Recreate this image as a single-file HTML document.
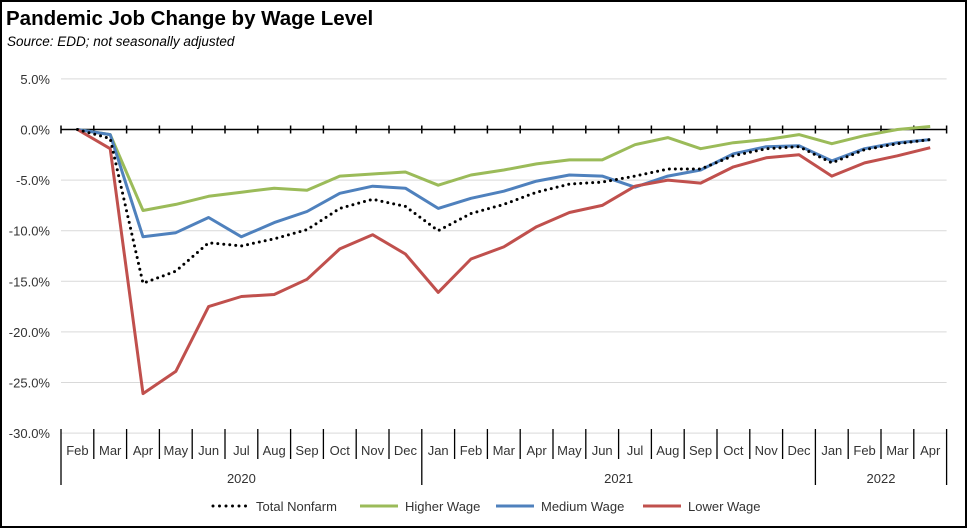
<!DOCTYPE html>
<html><head><meta charset="utf-8"><style>
html,body{margin:0;padding:0;background:#fff}
svg{display:block;font-family:"Liberation Sans",sans-serif}
</style></head><body>
<svg id="c" width="968" height="531" viewBox="0 0 968 531" xmlns="http://www.w3.org/2000/svg">
<rect x="1" y="1" width="965" height="526" fill="#fff" stroke="#000" stroke-width="2"/>
<text x="6" y="25" font-size="20.5" font-weight="bold" fill="#000">Pandemic Job Change by Wage Level</text>
<text x="7" y="46" font-size="13.5" font-style="italic" fill="#000">Source:  EDD; not seasonally adjusted</text>
<g id="g"></g>
</svg>
<script>
const NS="http://www.w3.org/2000/svg",g=document.getElementById('g');
function el(t,a,txt){const e=document.createElementNS(NS,t);for(const k in a)e.setAttribute(k,a[k]);if(txt!=null)e.textContent=txt;g.appendChild(e);return e;}
const L=61,W=32.8,Y=v=>129.5-v*10.12,X=i=>L+W*(i+0.5);
for(let v=5;v>=-30;v-=5){el('line',{x1:L,x2:L+27*W,y1:Y(v),y2:Y(v),stroke:'#d9d9d9','stroke-width':1});
el('text',{x:50,y:Y(v)+5,'font-size':13,'text-anchor':'end',fill:'#333'},v.toFixed(1)+'%');}
el('line',{x1:L,x2:L+27*W,y1:Y(0),y2:Y(0),stroke:'#000','stroke-width':1.5});
for(let i=0;i<=27;i++)el('line',{x1:L+i*W,x2:L+i*W,y1:Y(0)-4,y2:Y(0)+4,stroke:'#000','stroke-width':1.5});
const m=['Feb','Mar','Apr','May','Jun','Jul','Aug','Sep','Oct','Nov','Dec','Jan','Feb','Mar','Apr','May','Jun','Jul','Aug','Sep','Oct','Nov','Dec','Jan','Feb','Mar','Apr'];
m.forEach((s,i)=>el('text',{x:X(i),y:455,'font-size':13,'text-anchor':'middle',fill:'#333'},s));
for(let i=0;i<=27;i++){const yb=[0,11,23,27].includes(i);el('line',{x1:L+i*W,x2:L+i*W,y1:429,y2:yb?485:459,stroke:'#000','stroke-width':1.3});}
el('text',{x:L+5.5*W,y:483,'font-size':13,'text-anchor':'middle',fill:'#333'},'2020');
el('text',{x:L+17*W,y:483,'font-size':13,'text-anchor':'middle',fill:'#333'},'2021');
el('text',{x:L+25*W,y:483,'font-size':13,'text-anchor':'middle',fill:'#333'},'2022');
const D={
red:[0,-1.9,-26.1,-23.9,-17.5,-16.5,-16.3,-14.8,-11.8,-10.4,-12.3,-16.1,-12.8,-11.6,-9.6,-8.2,-7.5,-5.6,-5.0,-5.3,-3.7,-2.8,-2.5,-4.6,-3.3,-2.6,-1.8],
green:[0,-0.5,-8.0,-7.4,-6.6,-6.2,-5.8,-6.0,-4.6,-4.4,-4.2,-5.5,-4.5,-4.0,-3.4,-3.0,-3.0,-1.5,-0.8,-1.9,-1.3,-1.0,-0.5,-1.4,-0.6,0,0.3],
blue:[0,-0.5,-10.6,-10.2,-8.7,-10.6,-9.2,-8.1,-6.3,-5.6,-5.8,-7.8,-6.8,-6.1,-5.1,-4.5,-4.6,-5.7,-4.6,-4.0,-2.4,-1.7,-1.6,-3.1,-1.9,-1.3,-1.0],
blk:[0,-0.9,-15.2,-14.0,-11.2,-11.5,-10.8,-9.9,-7.8,-6.9,-7.6,-10.0,-8.3,-7.4,-6.2,-5.4,-5.2,-4.6,-3.9,-3.9,-2.6,-1.9,-1.7,-3.3,-2.0,-1.4,-1.0]};
const pts=a=>a.map((v,i)=>X(i).toFixed(1)+','+Y(v).toFixed(1)).join(' ');
el('polyline',{points:pts(D.green),fill:'none',stroke:'#9bbb59','stroke-width':3,'stroke-linejoin':'round'});
el('polyline',{points:pts(D.blue),fill:'none',stroke:'#4f81bd','stroke-width':3,'stroke-linejoin':'round'});
el('polyline',{points:pts(D.red),fill:'none',stroke:'#c0504d','stroke-width':3,'stroke-linejoin':'round'});
el('polyline',{points:pts(D.blk),fill:'none',stroke:'#000','stroke-width':3,'stroke-dasharray':'0 6','stroke-linecap':'round'});
el('line',{x1:213,x2:250,y1:506,y2:506,stroke:'#000','stroke-width':3,'stroke-dasharray':'0 6.5','stroke-linecap':'round'});
el('text',{x:256,y:511,'font-size':13,fill:'#333'},'Total Nonfarm');
el('line',{x1:360,x2:398,y1:506,y2:506,stroke:'#9bbb59','stroke-width':3});
el('text',{x:405,y:511,'font-size':13,fill:'#333'},'Higher Wage');
el('line',{x1:496,x2:534,y1:506,y2:506,stroke:'#4f81bd','stroke-width':3});
el('text',{x:541,y:511,'font-size':13,fill:'#333'},'Medium Wage');
el('line',{x1:643,x2:681,y1:506,y2:506,stroke:'#c0504d','stroke-width':3});
el('text',{x:688,y:511,'font-size':13,fill:'#333'},'Lower Wage');
</script>
</body></html>
